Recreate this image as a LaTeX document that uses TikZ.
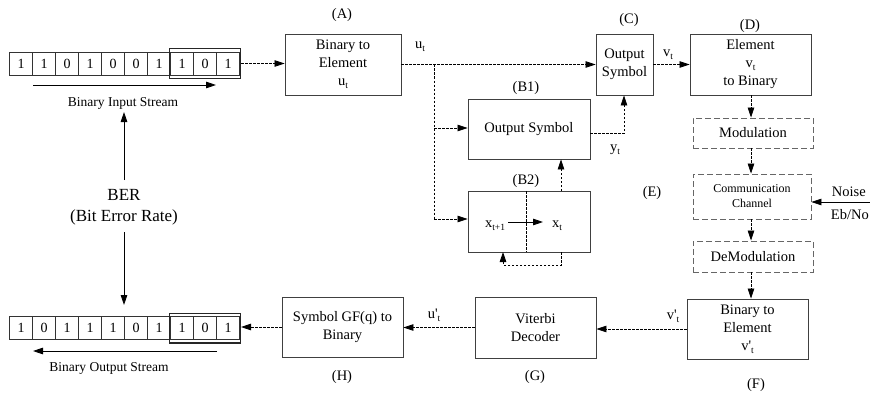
\documentclass[tikz,border=0pt]{standalone}
\usepackage{fontspec}
\setmainfont{Liberation Serif}
\usetikzlibrary{arrows.meta,fit}
\newcommand\lowsub[1]{\raisebox{-3pt}{\fontsize{9.5}{10}\selectfont #1}}
\begin{document}
\begin{tikzpicture}[x=1pt,y=-1pt,
  box/.style={draw=black!75, line width=0.9pt, rectangle, align=center, inner sep=0pt, font=\fontsize{14.5}{18}\selectfont},
  dbox/.style={draw=black!60, line width=0.9pt, dash pattern=on 6pt off 3pt, rectangle, align=center, inner sep=0pt, font=\fontsize{14.5}{18}\selectfont},
  cell/.style={draw=black!80, line width=0.7pt, minimum width=23pt, minimum height=23pt, inner sep=0pt, font=\fontsize{14}{16}\selectfont},
  flow/.style={line width=0.8pt, dash pattern=on 2.5pt off 1.5pt, -{Triangle[length=10pt,width=6.5pt]}},
  fline/.style={line width=0.8pt, dash pattern=on 2.5pt off 1.5pt},
  sarrow/.style={line width=0.8pt, -{Triangle[length=10pt,width=6.5pt]}},
  lbl/.style={font=\fontsize{14.5}{16}\selectfont, inner sep=0pt},
  stream/.style={font=\fontsize{13.5}{16}\selectfont, inner sep=0pt}
]
\useasboundingbox (0,0) rectangle (870,396);

% top bit array
\foreach \b [count=\i] in {1,1,0,1,0,0,1,1,0,1}
  \node[cell] (t\i) at ({9.5+23*(\i-0.5)}, 63.5) {\b};
\node[draw=black!85, line width=1.3pt, fit=(t8)(t10), inner xsep=0.5pt, inner ysep=3pt] (tk) {};
% bottom bit array
\foreach \b [count=\i] in {1,0,1,1,1,0,1,1,0,1}
  \node[cell] (b\i) at ({9.5+23*(\i-0.5)}, 328) {\b};
\node[draw=black!85, line width=1.3pt, fit=(b8)(b10), inner xsep=0.5pt, inner ysep=3pt] (bk) {};

% stream arrows
\coordinate (is1) at (33,85); \coordinate (is2) at (216,85);
\draw[sarrow] (is1) -- (is2);
\node[stream] (ist) at (123,103) {Binary Input Stream};
\coordinate (os1) at (217,351); \coordinate (os2) at (33,351);
\draw[sarrow] (os1) -- (os2);
\node[stream] (ost) at (109,368) {Binary Output Stream};

% BER
\node[font=\fontsize{17}{21}\selectfont, align=center, inner sep=2pt] (ber) at (124,207) {BER\\(Bit Error Rate)};
\coordinate (ber1) at (124,180); \coordinate (ber2) at (124,112);
\draw[sarrow] (ber1) -- (ber2);
\coordinate (ber3) at (124,232); \coordinate (ber4) at (124,305);
\draw[sarrow] (ber3) -- (ber4);

% boxes
\node[box, minimum width=116pt, minimum height=61pt] (A) at (343,64.5) {Binary to\\Element\\u\lowsub{t}};
\node[box, minimum width=57pt, minimum height=61pt] (C) at (624.5,64.5) {Output\\Symbol};
\node[box, minimum width=121pt, minimum height=61pt] (D) at (750.5,64.5) {Element\\v\lowsub{t}\\to Binary};
\node[box, minimum width=122pt, minimum height=60pt] (B1) at (529,129) {Output Symbol};
\node[box, minimum width=122pt, minimum height=61pt] (B2) at (529,221.5) {};
\node[dbox, minimum width=120pt, minimum height=30pt] (M) at (753,133) {Modulation};
\node[dbox, minimum width=118pt, minimum height=45pt, font=\fontsize{12}{15}\selectfont] (CC) at (752,196.5) {Communication\\Channel};
\node[dbox, minimum width=120pt, minimum height=31pt] (DM) at (753,256.5) {DeModulation};
\node[box, minimum width=121pt, minimum height=60pt] (F) at (747.5,329) {Binary to\\Element\\v\textquotesingle\lowsub{t}};
\node[box, minimum width=121pt, minimum height=61pt] (G) at (535.5,327.5) {Viterbi\\Decoder};
\node[box, minimum width=121pt, minimum height=60pt] (H) at (342.5,327) {Symbol GF(q) to\\Binary};

% box labels
\node[lbl] (lA) at (342,15) {(A)};
\node[lbl] (lC) at (629,20) {(C)};
\node[lbl] (lD) at (750,26) {(D)};
\node[lbl] (lB1) at (526,88) {(B1)};
\node[lbl] (lB2) at (526,181) {(B2)};
\node[lbl] (lE) at (652,193) {(E)};
\node[lbl] (lF) at (756,385) {(F)};
\node[lbl] (lG) at (535,377) {(G)};
\node[lbl] (lH) at (342,377) {(H)};

% B2 internals
\coordinate (div1) at (526,191); \coordinate (div2) at (526,252);
\draw[fline] (div1) -- (div2);
\node[lbl] (xt1) at (495,226) {x\lowsub{t+1}};
\node[lbl] (xt) at (557,226) {x\lowsub{t}};
\coordinate (xa1) at (508,222); \coordinate (xa2) at (543,222);
\draw[sarrow] (xa1) -- (xa2);

% flow connectors
\draw[flow] (tk.east) -- (tk.east -| A.west);
\draw[flow] (A.east) -- (A.east -| C.west);
\node[lbl] (ut) at (420,47) {u\lowsub{t}};
\coordinate (br) at (434,64.5);
\coordinate (brB1) at (434,128);
\coordinate (brB2) at (434,219);
\draw[fline] (br) -- (brB2);
\draw[flow] (brB1) -- (brB1 -| B1.west);
\draw[flow] (brB2) -- (brB2 -| B2.west);
\coordinate (y1) at (590,133); \coordinate (y2) at (624,133);
\draw[flow] (y1) -- (y2) -- (y2 |- C.south);
\node[lbl] (yt) at (615,150) {y\lowsub{t}};
\coordinate (u1) at (561,191);
\draw[flow] (u1) -- (u1 |- B1.south);
\coordinate (l1) at (561,252); \coordinate (l2) at (561,265);
\coordinate (l3) at (503,265); \coordinate (l4) at (503,252);
\draw[flow] (l1) -- (l2) -- (l3) -- (l4);
\draw[flow] (C.east) -- (C.east -| D.west);
\node[lbl] (vt) at (668,55) {v\lowsub{t}};
\coordinate (dx) at (751,95);
\draw[flow] (dx) -- (dx |- M.north);
\draw[flow] (dx |- M.south) -- (dx |- CC.north);
\draw[flow] (dx |- CC.south) -- (dx |- DM.north);
\draw[flow] (dx |- DM.south) -- (dx |- F.north);
\coordinate (nz) at (870,202);
\draw[sarrow] (nz) -- (nz -| CC.east);
\node[lbl, anchor=east] (nt) at (866,192) {Noise};
\node[lbl, anchor=east] (eb) at (869,215) {Eb/No};
\draw[flow] (F.west) -- (F.west -| G.east);
\node[lbl] (vpt) at (673,316) {v\textquotesingle\lowsub{t}};
\draw[flow] (G.west) -- (G.west -| H.east);
\node[lbl] (upt) at (434,315) {u\textquotesingle\lowsub{t}};
\draw[flow] (H.west) -- (H.west -| bk.east);
\end{tikzpicture}
\end{document}
